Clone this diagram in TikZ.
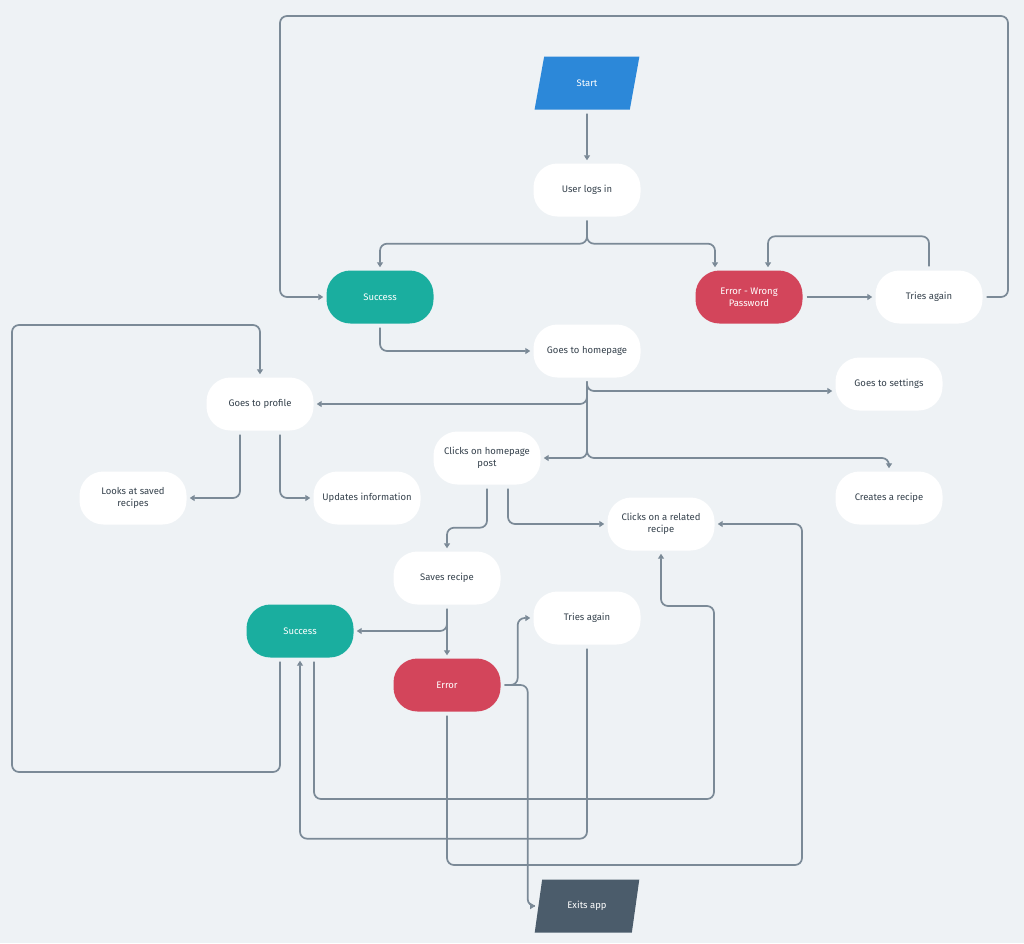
\documentclass[tikz,border=0pt]{standalone}
\usepackage{fontspec}
\setmainfont{Fira Sans}
\usetikzlibrary{shapes.geometric, arrows.meta, positioning}
\definecolor{bgcol}{HTML}{EEF2F5}
\definecolor{linecol}{HTML}{7B8A97}
\definecolor{textcol}{HTML}{36424D}
\definecolor{tealcol}{HTML}{1AAE9F}
\definecolor{redcol}{HTML}{D3455B}
\definecolor{bluecol}{HTML}{2C88D9}
\definecolor{slatecol}{HTML}{4B5C6B}

\begin{document}
\begin{tikzpicture}[
    x=1pt, y=-1pt,
    stepbox/.style={rectangle, rounded corners=24pt, minimum width=107pt, minimum height=53pt, inner sep=2pt, align=center, fill=white, text=textcol, font=\fontsize{9.5}{12}\selectfont},
    okbox/.style={stepbox, fill=tealcol, text=white},
    failbox/.style={stepbox, fill=redcol, text=white},
    io/.style={trapezium, trapezium left angle=71, trapezium right angle=109, trapezium stretches=true, minimum width=105pt, minimum height=53pt, inner sep=0pt, text=white, font=\fontsize{9.5}{12}\selectfont},
    arrow/.style={draw=linecol, line width=1.7pt, rounded corners=7pt, shorten <=4pt, shorten >=3pt, -{Triangle[length=5pt, width=6pt]}}
]
\fill[bgcol] (0,0) rectangle (1024,943);

\node (start) [io, fill=bluecol] at (587,83) {Start};
\node (login) [stepbox] at (587,190) {User logs in};
\node (ok1) [okbox] at (380,297) {Success};
\node (err1) [failbox] at (749,297) {Error - Wrong\\Password};
\node (retry1) [stepbox] at (929,297) {Tries again};
\node (home) [stepbox] at (587,351) {Goes to homepage};
\node (settings) [stepbox] at (889,384) {Goes to settings};
\node (profile) [stepbox] at (260,404) {Goes to profile};
\node (post) [stepbox] at (487,458) {Clicks on homepage\\post};
\node (saved) [stepbox] at (133,498) {Looks at saved\\recipes};
\node (update) [stepbox] at (367,498) {Updates information};
\node (create) [stepbox] at (889,498) {Creates a recipe};
\node (related) [stepbox] at (661,524) {Clicks on a related\\recipe};
\node (save) [stepbox] at (447,578) {Saves recipe};
\node (retry2) [stepbox] at (587,618) {Tries again};
\node (ok2) [okbox] at (300,631) {Success};
\node (fail) [failbox] at (447,685) {Error};
\node (exit) [io, fill=slatecol] at (587,906) {Exits app};

\coordinate (topright) at (1008,16);
\coordinate (topleft) at (280,16);
\coordinate (farleft) at (12,772);
\coordinate (farleftup) at (12,325);
\coordinate (lowright) at (714,799);
\coordinate (lowrightup) at (714,606);
\coordinate (bottomright) at (802,865);

\draw [arrow] (start.south) -- (login.north);
\draw [arrow] (login.south) -- ++(0,27) -| (ok1.north);
\draw [arrow] (login.south) -- ++(0,27) -| ([xshift=-34pt]err1.north);
\draw [arrow] (err1) -- (retry1);
\draw [arrow] (retry1.north) -- ++(0,-34) -| ([xshift=19pt]err1.north);
\draw [arrow] (retry1.east) -| (topright) -- (topleft) |- (ok1.west);
\draw [arrow] (ok1.south) |- (home.west);
\draw [arrow] (home.south) |- (profile.east);
\draw [arrow] (home.south) |- ([yshift=-7pt]settings.west);
\draw [arrow] (home.south) |- (post.east);
\draw [arrow] (home.south) -- (home.south |- post.east) -| (create.north);
\draw [arrow] ([xshift=-20pt]profile.south) |- (saved.east);
\draw [arrow] ([xshift=20pt]profile.south) |- (update.west);
\draw [arrow] (post.south) -- ++(0,43) -| (save.north);
\draw [arrow] ([xshift=21pt]post.south) |- (related.west);
\draw [arrow] (save) -- (fail);
\draw [arrow] (save.south) |- (ok2.east);
\draw [arrow] (fail.east) -- ++(17,0) |- (retry2.west);
\draw [arrow] (fail.east) -- ++(27,0) |- (exit.west);
\draw [arrow] (fail.south) |- (bottomright) |- (related.east);
\draw [arrow] (retry2.south) -- ++(0,194) -| (ok2.south);
\draw [arrow] ([xshift=14pt]ok2.south) |- (lowright) -- (lowrightup) -| (related.south);
\draw [arrow] ([xshift=-20pt]ok2.south) |- (farleft) -- (farleftup) -| (profile.north);
\end{tikzpicture}
\end{document}
